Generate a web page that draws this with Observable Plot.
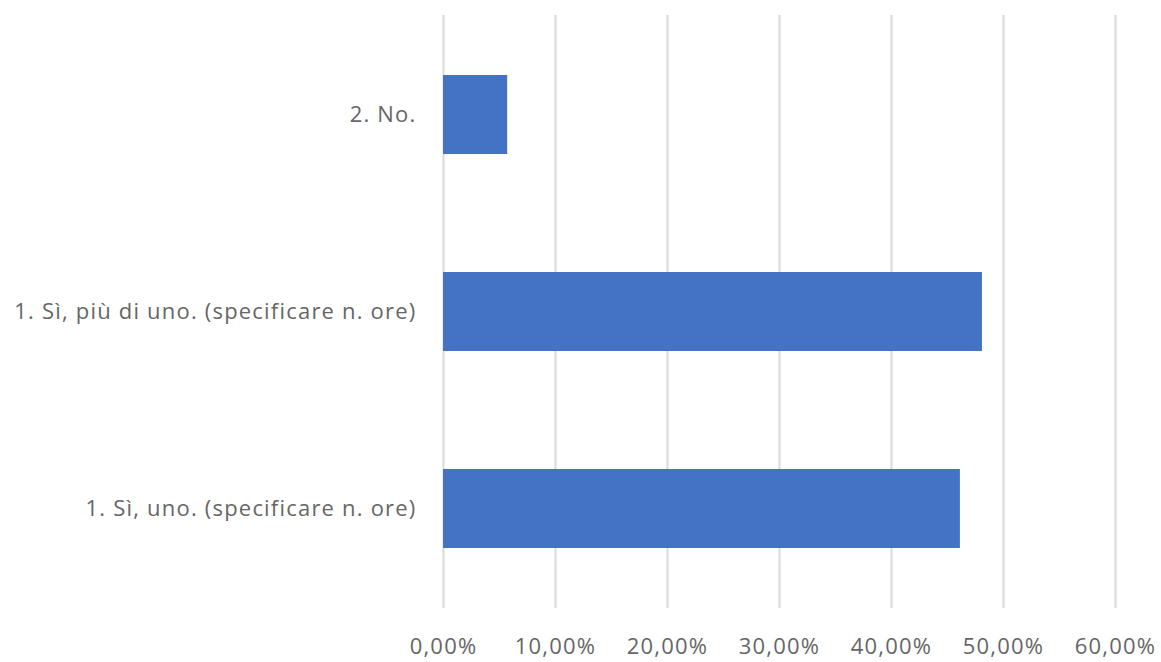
<!DOCTYPE html>
<html>
<head>
<meta charset="utf-8">
<script src="https://cdn.jsdelivr.net/npm/d3@7"></script>
<script src="https://cdn.jsdelivr.net/npm/@observablehq/plot@0.6"></script>
<style>
  html, body { margin: 0; padding: 0; background: #fff; }
  #chart svg { display: block; }
  #chart svg text { letter-spacing: 1.2px; }
</style>
</head>
<body>
<div id="chart"></div>
<script>
// Risposte (dall'alto verso il basso) e relative percentuali
const categories = [
  "2. No.",
  "1. Sì, più di uno. (specificare n. ore)",
  "1. Sì, uno. (specificare n. ore)"
];
const percentages = [5.73, 48.12, 46.15];
const xTicks = [0, 10, 20, 30, 40, 50, 60];

const rows = categories.map((c, i) => ({ risposta: c, valore: percentages[i] }));
const fmt = d => d.toFixed(2).replace(".", ",") + "%";

const chart = Plot.plot({
  width: 1161,
  height: 662,
  marginTop: 15,
  marginBottom: 54,
  marginLeft: 443,
  marginRight: 46,
  style: { fontFamily: "'Open Sans', sans-serif", fontSize: "22px", color: "#595959", background: "#fff" },
  x: { domain: [0, 60], ticks: xTicks, tickFormat: fmt, label: null, tickSize: 0, tickPadding: 30 },
  y: { domain: categories, paddingInner: 0.6, paddingOuter: 0.3, label: null, tickSize: 0, tickPadding: 27 },
  marks: [
    Plot.gridX(xTicks, { stroke: "#d9d9d9", strokeOpacity: 1, strokeWidth: 2 }),
    Plot.barX(rows, { x: "valore", y: "risposta", fill: "#4472C4" }),
    Plot.axisX({ ticks: xTicks, tickFormat: fmt, tickSize: 0, tickPadding: 30, fill: "#666666", fontSize: 22, label: null }),
    Plot.axisY({ tickSize: 0, tickPadding: 27, fill: "#666666", fontSize: 22, label: null })
  ]
});
document.getElementById("chart").appendChild(chart);
</script>
</body>
</html>
